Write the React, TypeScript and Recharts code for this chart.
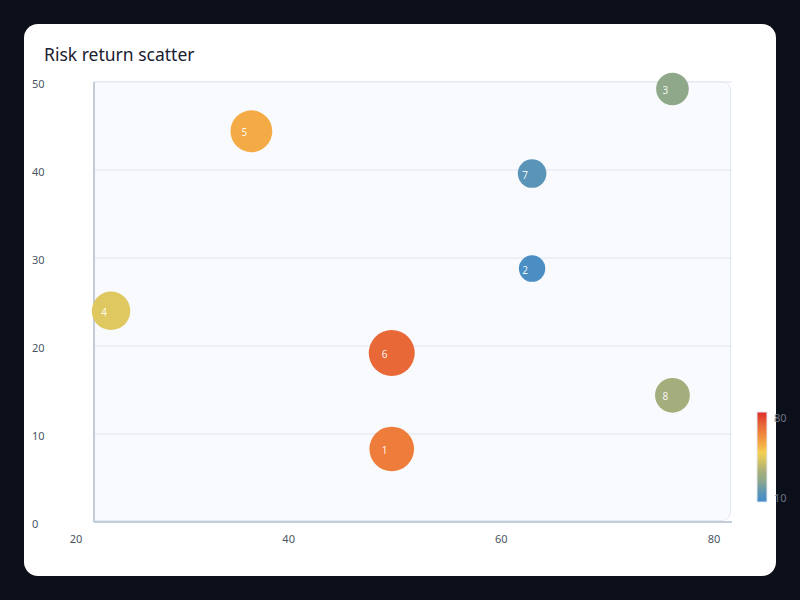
import React from 'react';
import { ScatterChart, Scatter, XAxis, YAxis, ZAxis, CartesianGrid } from 'recharts';

// ---- data ----
const pointIds = ['1', '2', '3', '4', '5', '6', '7', '8'];
const riskValues = [48.0, 61.2, 74.4, 21.6, 34.8, 48.0, 61.2, 74.4];
const returnValues = [8.3, 28.8, 49.2, 24.0, 44.4, 19.2, 39.6, 14.4];
const scoreValues = [65, 12, 27, 44, 55, 70, 17, 33];
const xTicks = [20, 40, 60, 80];
const yTicks = [0, 10, 20, 30, 40, 50];
const scoreRange = [10, 80];

// ---- colour scale (score -> colour) ----
const colorStops: [number, string][] = [
  [0, '#3a86d2'],
  [0.029, '#4a8ec3'],
  [0.1, '#5a95b8'],
  [0.243, '#8fa88a'],
  [0.329, '#a4ad7c'],
  [0.486, '#dfc85f'],
  [0.55, '#f5cf52'],
  [0.643, '#f4aa45'],
  [0.786, '#ee7c3a'],
  [0.857, '#e86838'],
  [1, '#df2a2a'],
];

const hexToRgb = (h: string) => [
  parseInt(h.slice(1, 3), 16),
  parseInt(h.slice(3, 5), 16),
  parseInt(h.slice(5, 7), 16),
];

const heatColor = (v: number) => {
  const t = Math.max(0, Math.min(1, (v - scoreRange[0]) / (scoreRange[1] - scoreRange[0])));
  for (let i = 1; i < colorStops.length; i++) {
    const [t1, c1] = colorStops[i];
    const [t0, c0] = colorStops[i - 1];
    if (t <= t1) {
      const f = (t - t0) / (t1 - t0);
      const a = hexToRgb(c0);
      const b = hexToRgb(c1);
      const c = a.map((x, k) => Math.round(x + (b[k] - x) * f));
      return `rgb(${c[0]},${c[1]},${c[2]})`;
    }
  }
  return colorStops[colorStops.length - 1][1];
};

const data = pointIds.map((id, i) => ({
  id,
  x: riskValues[i],
  y: returnValues[i],
  z: scoreValues[i],
}));

const FONT = '"Noto Sans", "Open Sans", sans-serif';

const XTick = (props: any) => {
  const { x, payload } = props;
  return (
    <text x={x - 18} y={538} textAnchor="middle" dominantBaseline="central" fontSize={11} fill="#4b5563" fontFamily={FONT}>
      {payload.value}
    </text>
  );
};

const YTick = (props: any) => {
  const { y, payload } = props;
  return (
    <text x={32} y={y + 1} textAnchor="start" dominantBaseline="central" fontSize={11} fill="#4b5563" fontFamily={FONT}>
      {payload.value}
    </text>
  );
};

const Bubble = (props: any) => {
  const { cx, cy, payload } = props;
  const r = props.width ? props.width / 2 : Math.sqrt((props.size || 0) / Math.PI);
  return (
    <g>
      <circle cx={cx} cy={cy} r={r} fill={heatColor(payload.z)} />
      <text x={cx - 7} y={cy + 1} textAnchor="middle" dominantBaseline="central" fontSize={10} fill="#ffffff" fillOpacity={0.92} fontFamily={FONT}>
        {payload.id}
      </text>
    </g>
  );
};

export default function App() {
  return (
    <div style={{ position: 'absolute', left: 0, top: 0, width: 800, height: 600, background: '#0b0f19', overflow: 'hidden' }}>
      <div style={{ position: 'absolute', left: 24, top: 24, width: 752, height: 552, background: '#ffffff', borderRadius: 14 }} />
      <div
        style={{
          position: 'absolute',
          left: 44,
          top: 41,
          fontFamily: FONT,
          fontSize: 17.5,
          color: '#1a2130',
          lineHeight: '26px',
          whiteSpace: 'nowrap',
        }}
      >
        Risk return scatter
      </div>
      <div
        style={{
          position: 'absolute',
          left: 94,
          top: 81,
          width: 637,
          height: 440,
          background: '#f9fafe',
          border: '1.5px solid #e3e8f0',
          borderLeft: 'none',
          borderRadius: '0 9px 9px 0',
          boxSizing: 'border-box',
        }}
      />
      <div style={{ position: 'absolute', left: 0, top: 0 }}>
        <ScatterChart width={800} height={600} margin={{ top: 82, right: 68, bottom: 48, left: 34 }}>
          <CartesianGrid vertical={false} stroke="#e7ebf2" strokeWidth={1.5} />
          <XAxis
            type="number"
            dataKey="x"
            domain={[20, 80]}
            ticks={xTicks}
            height={30}
            tickLine={false}
            axisLine={{ stroke: '#c3ccd9', strokeWidth: 2 }}
            tick={<XTick />}
          />
          <YAxis
            type="number"
            dataKey="y"
            domain={[0, 50]}
            ticks={yTicks}
            width={60}
            tickLine={false}
            axisLine={{ stroke: '#c3ccd9', strokeWidth: 2 }}
            tick={<YTick />}
          />
          <ZAxis type="number" dataKey="z" domain={scoreRange} range={[509, 1853]} />
          <Scatter data={data} isAnimationActive={false} shape={<Bubble />} />
        </ScatterChart>
      </div>
      <svg width={800} height={600} style={{ position: 'absolute', left: 0, top: 0, pointerEvents: 'none' }}>
        <defs>
          <linearGradient id="heat" x1="0" y1="1" x2="0" y2="0">
            {colorStops.map(([t, c]) => (
              <stop key={t} offset={`${t * 100}%`} stopColor={c} />
            ))}
          </linearGradient>
        </defs>
        <rect x={757} y={412} width={10} height={90} fill="url(#heat)" stroke="#e6eaf1" strokeWidth={1} />
        <text x={774} y={417} dominantBaseline="central" fontSize={11} fill="#6b7386" fontFamily={FONT}>
          {scoreRange[1]}
        </text>
        <text x={774} y={497} dominantBaseline="central" fontSize={11} fill="#6b7386" fontFamily={FONT}>
          {scoreRange[0]}
        </text>
      </svg>
    </div>
  );
}
